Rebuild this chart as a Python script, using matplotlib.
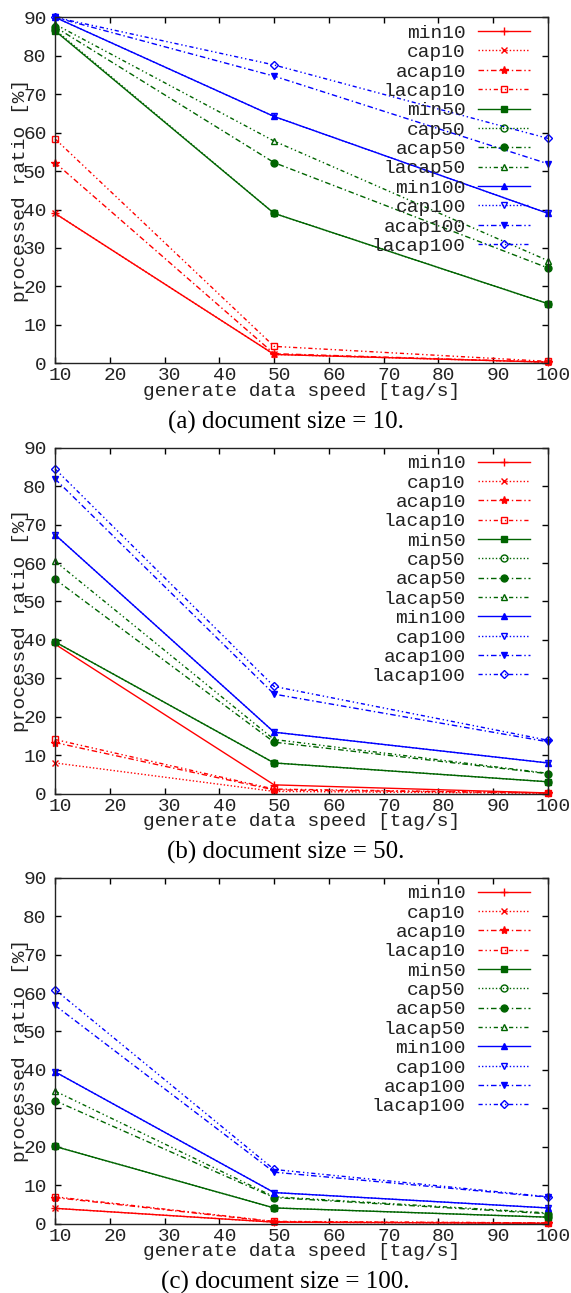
import matplotlib
matplotlib.use('Agg')
import matplotlib.pyplot as plt
import matplotlib.transforms as mtransforms

# generate data speed [tag/s]
speed = [10, 50, 100]

series = ['min10', 'cap10', 'acap10', 'lacap10',
          'min50', 'cap50', 'acap50', 'lacap50',
          'min100', 'cap100', 'acap100', 'lacap100']

# processed ratio [%], one row per series (same order as above)
ratio_doc10 = [
    [39.0, 2.3, 0.3],
    [39.0, 2.3, 0.3],
    [52.2, 2.5, 0.3],
    [58.4, 4.4, 0.5],
    [86.5, 39.0, 15.5],
    [86.8, 39.0, 15.5],
    [87.5, 52.2, 24.8],
    [88.2, 57.8, 26.7],
    [90.0, 64.2, 39.0],
    [90.0, 64.2, 39.0],
    [90.0, 74.7, 51.9],
    [90.0, 77.6, 58.5],
]
ratio_doc50 = [
    [38.9, 2.3, 0.2],
    [8.0, 0.6, 0.1],
    [13.3, 1.0, 0.2],
    [14.1, 1.2, 0.2],
    [39.5, 8.0, 3.1],
    [39.5, 8.0, 3.1],
    [55.8, 13.4, 5.2],
    [60.5, 14.1, 5.3],
    [67.4, 16.0, 8.0],
    [67.4, 16.0, 8.0],
    [81.9, 25.9, 13.5],
    [84.5, 27.9, 13.9],
]
ratio_doc100 = [
    [4.0, 0.4, 0.1],
    [4.0, 0.4, 0.1],
    [6.8, 0.5, 0.2],
    [7.0, 0.6, 0.2],
    [20.1, 4.1, 1.7],
    [20.1, 4.1, 1.7],
    [32.0, 6.8, 2.6],
    [34.5, 7.0, 2.8],
    [39.5, 8.1, 4.1],
    [39.5, 8.1, 4.1],
    [56.8, 13.4, 6.9],
    [60.9, 14.1, 7.0],
]

captions = ['(a) document size = 10.', '(b) document size = 50.',
            '(c) document size = 100.']

# gnuplot-like styles
green = '#006400'
colors = ['#ff0000'] * 4 + [green] * 4 + ['#0000ff'] * 4
dashes = ['-', (0, (1, 1.5)), (0, (4, 2, 1, 2)), (0, (3, 2, 1, 2, 1, 2))] * 3
markers = ['+', 'x', '*', 's', 's', 'o', 'o', '^', '^', 'v', 'v', 'D']
filled = [True, True, True, False, True, False, True, False, True, False, True, False]
msizes = [6, 5, 6, 5, 5, 5, 5, 5, 5, 5, 5, 4]

mono = 'Liberation Mono'
fs = 14

fig = plt.figure(figsize=(5.71, 12.93), dpi=100)
H = 1293.0
W = 571.0

panels = [(17.3, ratio_doc10), (447.7, ratio_doc50), (877.7, ratio_doc100)]

for k, (top_px, data) in enumerate(panels):
    ax = fig.add_axes([55 / W, 1 - (top_px + 346) / H, 493 / W, 346 / H])
    for i, name in enumerate(series):
        ax.plot(speed, data[i], color=colors[i], linestyle=dashes[i], lw=1.0,
                marker=markers[i], ms=msizes[i], mew=1.0,
                mfc=colors[i] if filled[i] else 'none', mec=colors[i],
                label=name, clip_on=False)

    ax.set_xlim(10, 100)
    ax.set_ylim(0, 90)
    ax.set_xticks(range(10, 101, 10))
    ax.set_yticks(range(0, 91, 10))
    ax.tick_params(direction='in', length=4, width=1, top=True, right=True,
                   colors='black', labelcolor='#222222', labelsize=fs)
    ax.tick_params(axis='y', pad=6)
    ax.tick_params(axis='x', pad=3)
    for lab in ax.get_xticklabels() + ax.get_yticklabels():
        lab.set_fontfamily(mono)
    off = mtransforms.ScaledTranslation(5.5 / 100, 0, fig.dpi_scale_trans)
    for lab in ax.get_xticklabels():
        lab.set_transform(lab.get_transform() + off)
    for sp in ax.spines.values():
        sp.set_linewidth(1.0)
        sp.set_color('#222222')

    ax.set_xlabel('generate data speed [tag/s]', fontfamily=mono, fontsize=fs,
                  color='#222222', va='center')
    ax.xaxis.set_label_coords(0.5, -28 / 346)
    ax.set_ylabel('processed ratio [%]', fontfamily=mono, fontsize=fs,
                  color='#222222', va='center')
    ax.yaxis.set_label_coords(-34 / 493, 0.5)

    leg = ax.legend(loc='upper right', bbox_to_anchor=(475 / 493, 1 - 7 / 346),
                    frameon=False, markerfirst=False, borderaxespad=0,
                    borderpad=0, handlelength=2.7, handletextpad=0.6,
                    labelspacing=0.09, prop={'family': mono, 'size': fs})
    for t in leg.get_texts():
        t.set_color('#222222')

    fig.text(0.5, 1 - (top_px + 405) / H, captions[k], ha='center', va='center',
             fontfamily='Liberation Serif', fontsize=18)

fig.savefig('out.png', dpi=100)
